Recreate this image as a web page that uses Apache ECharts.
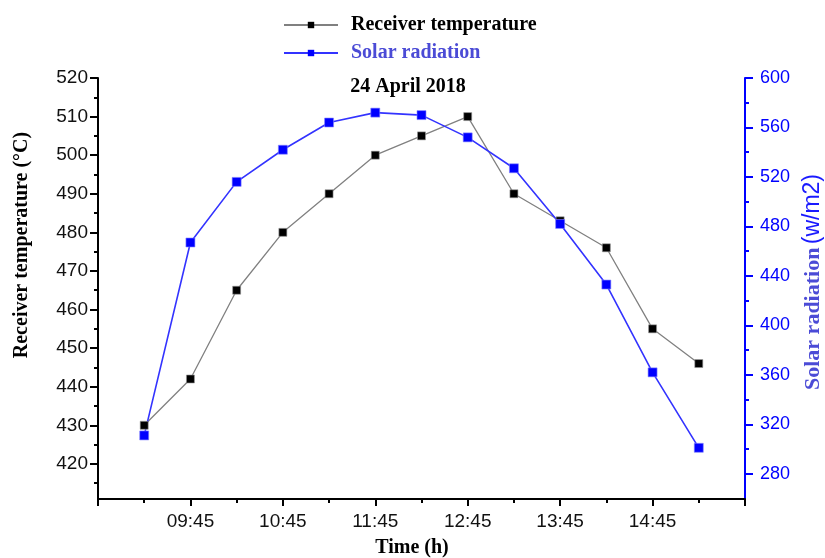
<!DOCTYPE html>
<html>
<head>
<meta charset="utf-8">
<script src="https://cdn.jsdelivr.net/npm/echarts@6/dist/echarts.min.js"></script>
<style>
  html, body { margin: 0; padding: 0; background: #fff; }
  #chart { width: 825px; height: 558px; }
</style>
</head>
<body>
<div id="chart"></div>
<script>
// measured times (clock)
var times = ['09:15', '09:45', '10:15', '10:45', '11:15', '11:45', '12:15',
             '12:45', '13:15', '13:45', '14:15', '14:45', '15:15'];
// receiver temperature (°C)
var receiverTemp = [430, 442, 465, 480, 490, 500, 505, 510, 490, 483, 476, 455, 446];
// solar radiation (w/m2)
var solarRad = [311, 467, 516, 542, 564, 572, 570, 552, 527, 482, 433, 362, 301];

// tick labels
var leftTicks = [420, 430, 440, 450, 460, 470, 480, 490, 500, 510, 520];
var leftMinor = [415, 425, 435, 445, 455, 465, 475, 485, 495, 505, 515];
var rightTicks = [280, 320, 360, 400, 440, 480, 520, 560, 600];
var rightMinor = [300, 340, 380, 420, 460, 500, 540, 580];

var startMin = 8 * 60 + 45; // x axis starts at 08:45

function toOffset(s) {
  var p = s.split(':');
  return +p[0] * 60 + +p[1] - startMin;
}
function toClock(v) {
  var t = v + startMin;
  var h = Math.floor(t / 60), m = t % 60;
  return (h < 10 ? '0' : '') + h + ':' + (m < 10 ? '0' : '') + m;
}

var tempData = [], radData = [];
times.forEach(function (t, i) {
  tempData.push([toOffset(t), receiverTemp[i]]);
  radData.push([toOffset(t), solarRad[i]]);
});

var serif = '"Liberation Serif", "Times New Roman", serif';
var sans = '"Liberation Sans", Arial, sans-serif';
var blue = '#0000ff';

var chart = echarts.init(document.getElementById('chart'));

var option = {
  animation: false,
  title: {
    text: '24 April 2018',
    left: 408,
    top: 77,
    padding: 0,
    textAlign: 'center',
    textStyle: { fontFamily: serif, fontWeight: 'bold', fontSize: 20, color: '#000' }
  },
  legend: {
    orient: 'vertical',
    left: 283,
    top: 15,
    padding: 0,
    itemWidth: 54,
    itemHeight: 8,
    itemGap: 8,
    itemStyle: { borderWidth: 0 },
    data: [
      { name: 'Receiver temperature', textStyle: { color: '#000' } },
      { name: 'Solar radiation', textStyle: { color: '#4b4bd6' } }
    ],
    textStyle: { fontFamily: serif, fontWeight: 'bold', fontSize: 20, padding: [0, 0, 0, 8] }
  },
  grid: { left: 98, right: 80, top: 78, bottom: 59 },
  xAxis: {
    type: 'value',
    min: 0,
    max: 420,
    interval: 60,
    splitLine: { show: false },
    axisLine: { onZero: false, lineStyle: { color: '#000', width: 2 } },
    axisTick: { length: 7, lineStyle: { color: '#000', width: 2 } },
    minorTick: { show: true, splitNumber: 2, length: 4, lineStyle: { color: '#000', width: 2 } },
    axisLabel: {
      fontFamily: sans, fontSize: 19, color: '#111', margin: 13,
      formatter: function (v) { return (v === 0 || v === 420) ? '' : toClock(v); }
    }
  },
  yAxis: [
    {
      type: 'value', position: 'left', min: 410.9, max: 520,
      splitLine: { show: false },
      axisLine: { show: true, lineStyle: { color: '#000', width: 2 } },
      axisTick: { show: true, length: 8, customValues: leftTicks, lineStyle: { color: '#000', width: 2 } },
      axisLabel: { customValues: leftTicks, fontFamily: sans, fontSize: 19, color: '#111', margin: 10 }
    },
    {
      type: 'value', position: 'left', min: 410.9, max: 520,
      splitLine: { show: false },
      axisLine: { show: false },
      axisTick: { show: true, length: 4, customValues: leftMinor, lineStyle: { color: '#000', width: 2 } },
      axisLabel: { show: false }
    },
    {
      type: 'value', position: 'right', min: 259.6, max: 600,
      splitLine: { show: false },
      axisLine: { show: true, lineStyle: { color: blue, width: 2 } },
      axisTick: { show: true, length: 8, customValues: rightTicks, lineStyle: { color: blue, width: 2 } },
      axisLabel: { customValues: rightTicks, fontFamily: sans, fontSize: 18, color: blue, margin: 15 }
    },
    {
      type: 'value', position: 'right', min: 259.6, max: 600,
      splitLine: { show: false },
      axisLine: { show: false },
      axisTick: { show: true, length: 4, customValues: rightMinor, lineStyle: { color: blue, width: 2 } },
      axisLabel: { show: false }
    }
  ],
  series: [
    {
      name: 'Receiver temperature',
      type: 'line',
      yAxisIndex: 0,
      data: tempData,
      symbol: 'rect',
      symbolSize: 8,
      color: '#000',
      lineStyle: { color: '#808080', width: 1.3 },
      itemStyle: { color: '#000', borderColor: '#999', borderWidth: 0.6 }
    },
    {
      name: 'Solar radiation',
      type: 'line',
      yAxisIndex: 2,
      data: radData,
      symbol: 'rect',
      symbolSize: 9,
      color: blue,
      lineStyle: { color: '#3333ff', width: 1.6 },
      itemStyle: { color: blue, borderColor: '#8888ff', borderWidth: 0.6 }
    }
  ],
  graphic: [
    {
      type: 'text', x: 22, y: 245, rotation: Math.PI / 2,
      style: {
        text: 'Receiver temperature (°C)', fill: '#000',
        font: 'bold 20px ' + serif, align: 'center', verticalAlign: 'middle'
      }
    },
    {
      type: 'text', x: 813, y: 282, rotation: Math.PI / 2,
      style: {
        text: '{a|Solar radiation} {b|(w/m2)}',
        align: 'center', verticalAlign: 'middle',
        rich: {
          a: { fontFamily: serif, fontWeight: 'bold', fontSize: 22, fill: '#4b4bd6' },
          b: { fontFamily: sans, fontSize: 23, fill: '#1a1aff' }
        }
      }
    },
    {
      type: 'text', x: 412, y: 548,
      style: {
        text: 'Time (h)', fill: '#000',
        font: 'bold 20px ' + serif, align: 'center', verticalAlign: 'middle'
      }
    }
  ]
};

chart.setOption(option);
</script>
</body>
</html>
